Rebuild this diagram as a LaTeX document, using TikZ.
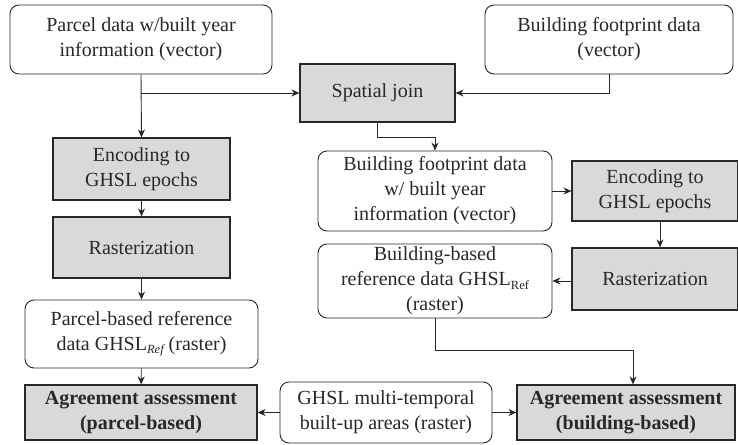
\documentclass[tikz,border=0pt]{standalone}
\usepackage{fontspec}
\setmainfont{Liberation Serif}
\usetikzlibrary{positioning,arrows.meta,calc}
\definecolor{Ink}{RGB}{40,40,40}
\definecolor{Box}{RGB}{217,217,217}
\newcommand{\refsub}[1]{\raisebox{-.35ex}{\fontsize{12.5}{12.5}\selectfont #1}}

\begin{document}
\begin{tikzpicture}[x=1pt,y=-1pt,
 r/.style={rounded corners=9pt,draw=Ink,line width=.9pt,fill=white,align=center,inner sep=0pt,text=Ink,font=\fontsize{20}{25}\selectfont},
 g/.style={draw=Ink,line width=1.2pt,fill=Box,align=center,inner sep=0pt,text=Ink,font=\fontsize{20}{25}\selectfont},
 a/.style={-{Stealth[length=8pt,width=7pt]},line width=.9pt,Ink}]
\useasboundingbox (0,0) rectangle (738,444);
% inputs and join
\node[r,minimum width=262pt,minimum height=69pt] (parcel) at (141,39.5) {Parcel data w/built year\\information (vector)};
\node[r,minimum width=248pt,minimum height=69pt] (foot) at (609,39.5) {Building footprint data\\(vector)};
\node[g,minimum width=155pt,minimum height=58pt] (join) at (377.5,93) {Spatial join};
% parcel branch
\node[g,minimum width=177pt,minimum height=62pt] (encL) at (141.5,169) {Encoding to\\GHSL epochs};
\node[g,minimum width=177pt,minimum height=61pt] (rastL) at (141.5,247.5) {Rasterization};
\node[r,minimum width=233pt,minimum height=68pt] (parcRef) at (141.5,334) {Parcel-based reference\\data GHSL\refsub{\itshape Ref} (raster)};
\node[g,minimum width=232pt,minimum height=55pt,font=\fontsize{20}{25}\selectfont\bfseries] (agrP) at (141,412.5) {Agreement assessment\\(parcel-based)};
% building branch
\node[r,minimum width=234pt,minimum height=80pt] (foot2) at (435,191) {Building footprint data\\w/ built year\\information (vector)};
\node[g,minimum width=166pt,minimum height=60pt] (encR) at (655,191) {Encoding to\\GHSL epochs};
\node[g,minimum width=166pt,minimum height=62pt] (rastR) at (655,279) {Rasterization};
\node[r,minimum width=234pt,minimum height=74pt] (bRef) at (435,281) {Building-based\\reference data GHSL\refsub{Ref}\\(raster)};
\node[g,minimum width=218pt,minimum height=55pt,font=\fontsize{20}{25}\selectfont\bfseries] (agrB) at (626,412.5) {Agreement assessment\\(building-based)};
% GHSL layer
\node[r,minimum width=212pt,minimum height=61pt] (ghsl) at (386,412.5) {GHSL multi-temporal\\built-up areas (raster)};
% arrows
\draw[a] (parcel.south) -- (encL.north);
\draw[a] (parcel.south |- join.west) -- (join.west);
\draw[a] (foot.south) |- (join.east);
\draw[a] (join.south) -- ++(0,15) -| (foot2.north);
\draw[a] (foot2.east) -- (encR.west);
\draw[a] (encR.south -| 660,0) -- (rastR.north -| 660,0);
\draw[a] (rastR.west |- bRef.east) -- (bRef.east);
\draw[a] (encL) -- (rastL);
\draw[a] (rastL) -- (parcRef);
\draw[a] (parcRef) -- (agrP);
\draw[a] (ghsl) -- (agrP);
\draw[a] (ghsl) -- (agrB);
\coordinate (bend) at (633,350);
\draw[a] (bRef.south) |- (bend) -- (bend |- agrB.north);
\end{tikzpicture}
\end{document}
